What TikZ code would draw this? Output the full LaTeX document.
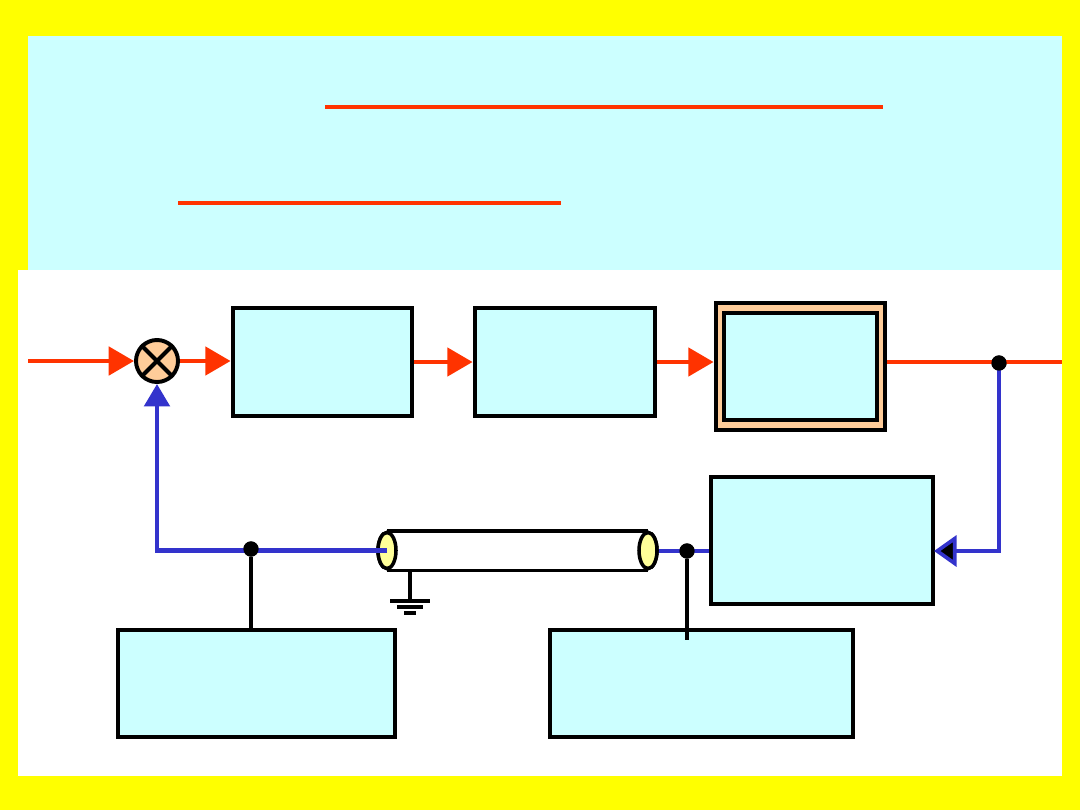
\documentclass[tikz,border=0pt]{standalone}
\usepackage{tikz}
\usetikzlibrary{calc,positioning,arrows.meta,shapes.geometric}
\definecolor{slideYellow}{HTML}{FFFF00}
\definecolor{panelCyan}{HTML}{CCFFFF}
\definecolor{blockPeach}{HTML}{FFCC99}
\definecolor{cableEnd}{HTML}{FFFF99}
\definecolor{signalRed}{HTML}{FF3300}
\definecolor{feedBlue}{HTML}{3333CC}

\begin{document}
\begin{tikzpicture}[x=0.025cm,y=-0.025cm,
  block/.style={rectangle,draw=black,fill=panelCyan,line width=3.4pt,inner sep=0pt},
  sumjunc/.style={circle,draw=black,fill=blockPeach,line width=2.8pt,minimum size=1.05cm,inner sep=0pt},
  tapdot/.style={circle,fill=black,minimum size=0.38cm,inner sep=0pt},
  cabend/.style={ellipse,draw=black,fill=cableEnd,line width=2.5pt,minimum width=0.45cm,minimum height=0.9cm,inner sep=0pt},
  redarr/.style={-{Triangle[length=18pt,width=20pt]},line width=3.2pt,signalRed},
  redline/.style={line width=3.2pt,signalRed},
  bluearr/.style={-{Triangle[length=16pt,width=18pt]},line width=3.2pt,feedBlue},
  blueline/.style={line width=3.2pt,feedBlue},
  probe/.style={line width=2.6pt,black}
]
  \useasboundingbox (0,0) rectangle (1080,810);
  \fill[slideYellow] (0,0) rectangle (1080,810);
  \fill[panelCyan] (28,36) rectangle (1062,270);
  \fill[white] (18,270) rectangle (1062,776);
  \draw[redline] (325,107) -- (883,107);
  \draw[redline] (178,203) -- (561,203);

  \node[sumjunc] (sum) at (157,361) {};
  \draw[line width=2.8pt] (sum.45) -- (sum.225) (sum.135) -- (sum.315);
  \node[block,minimum width=4.475cm,minimum height=2.7cm] (ctrl) at (322.5,362) {};
  \node[block,minimum width=4.5cm,minimum height=2.7cm] (amp) at (565,362) {};
  \node[block,fill=blockPeach,minimum width=4.225cm,minimum height=3.175cm] (plant) at (800.5,366.5) {};
  \node[block,minimum width=3.825cm,minimum height=2.675cm] at (plant.center) {};
  \node[block,minimum width=5.55cm,minimum height=3.175cm] (sensor) at (822,540.5) {};
  \node[block,minimum width=6.925cm,minimum height=2.675cm] (scopeA) at (256.5,683.5) {};
  \node[block,minimum width=7.575cm,minimum height=2.675cm] (scopeB) at (701.5,683.5) {};

  \coordinate (in) at (28,361);
  \coordinate (out) at (1062,362);
  \coordinate (fbIn) at (934,551);
  \node[tapdot] (tapOut) at (999,363) {};
  \node[tapdot] (tapA) at (251,549) {};
  \node[tapdot] (tapB) at (687,551) {};

  \draw[redarr] (in) -- (sum.west);
  \draw[redarr] (sum.east) -- (ctrl.west |- sum);
  \draw[redarr] (ctrl.east) -- (amp.west);
  \draw[redarr] (amp.east) -- (plant.west |- amp);
  \draw[redline] (plant.east |- out) -- (out);
  \draw[blueline,-{Triangle[length=16pt,width=22pt,fill=black,line width=2.6pt]}] (tapOut.center) |- (fbIn);
  \draw[blueline] (sensor.west |- tapB) -- (tapB.center) -- (648,551);

  \node[cabend] (cabR) at (648,550.5) {};
  \node[cabend] (cabL) at (387,550.5) {};
  \fill[white] (cabL.north) rectangle (cabR.south);
  \draw[line width=2.5pt] (cabL.north) -- (cabR.north) (cabL.south) -- (cabR.south);
  \node[cabend] at (cabR.center) {};
  \node[cabend] at (cabL.center) {};
  \coordinate (gnd) at (410,601);
  \draw[line width=2.5pt] (cabL.south -| gnd) -- (gnd);
  \draw[line width=2.5pt] (390,601) -- (430,601) (397,607) -- (423,607) (404,613) -- (416,613);

  \draw[bluearr] (cabL.center) -| (sum.south);
  \draw[probe] (tapA) -- (tapA |- scopeA.north);
  \draw[probe] (tapB) -- (tapB |- 0,640);
  \node[tapdot] at (tapA) {};
  \node[tapdot] at (tapB) {};
  \node[tapdot] at (tapOut) {};
\end{tikzpicture}
\end{document}
